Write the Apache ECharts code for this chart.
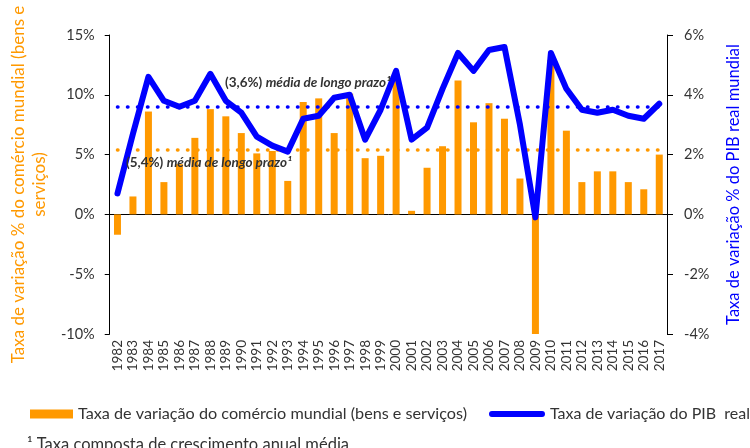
<!DOCTYPE html>
<html>
<head>
<meta charset="utf-8">
<script src="https://cdn.jsdelivr.net/npm/echarts@6/dist/echarts.min.js"></script>
<style>
  html, body { margin: 0; padding: 0; background: #fff; }
  #chart { width: 750px; height: 448px; }
</style>
</head>
<body>
<div id="chart"></div>
<script>
const years = ["1982", "1983", "1984", "1985", "1986", "1987", "1988", "1989", "1990", "1991",
  "1992", "1993", "1994", "1995", "1996", "1997", "1998", "1999", "2000", "2001",
  "2002", "2003", "2004", "2005", "2006", "2007", "2008", "2009", "2010", "2011",
  "2012", "2013", "2014", "2015", "2016", "2017"];

// world trade growth (goods and services), %
const tradeGrowth = [-1.7, 1.5, 8.6, 2.7, 4.2, 6.4, 8.8, 8.2, 6.8, 5.1,
  5.3, 2.8, 9.4, 9.7, 6.8, 10.1, 4.7, 4.9, 11.2, 0.3,
  3.9, 5.7, 11.2, 7.7, 9.3, 8.0, 3.0, -10.0, 12.9, 7.0,
  2.7, 3.6, 3.6, 2.7, 2.1, 5.0];

// world real GDP growth, %
const gdpGrowth = [0.7, 2.7, 4.6, 3.8, 3.6, 3.8, 4.7, 3.8, 3.4, 2.6,
  2.3, 2.1, 3.2, 3.3, 3.9, 4.0, 2.5, 3.5, 4.8, 2.5,
  2.9, 4.2, 5.4, 4.8, 5.5, 5.6, 3.0, -0.1, 5.4, 4.2,
  3.5, 3.4, 3.5, 3.3, 3.2, 3.7];

// long term averages
const tradeAvg = 5.4;
const gdpAvg = 3.6;

const leftTicks = { min: -10, max: 15, interval: 5 };
const rightTicks = { min: -4, max: 6, interval: 2 };

const ORANGE = "#FF9900";
const BLUE = "#0000FF";
const FONT = "Lato";

let chart = echarts.init(document.getElementById("chart"));

const noteRich = {
  a: { fontFamily: FONT, fontSize: 13.5, fontWeight: "bold", fill: "#333" },
  b: { fontFamily: FONT, fontSize: 13.5, fontWeight: "bold", fontStyle: "italic", fill: "#333" },
};

let option = {
  animation: false,
  grid: { left: 100, right: 77, top: 35, bottom: 114 },
  legend: [
    {
      data: ["Taxa de variação do comércio mundial (bens e serviços)"],
      left: 25,
      top: 401,
      itemWidth: 43,
      itemHeight: 9,
      icon: "rect",
      textStyle: { fontFamily: FONT, fontSize: 16.2, color: "#333" },
    },
    {
      data: ["Taxa de variação do PIB  real"],
      left: 484,
      top: 401,
      itemWidth: 56,
      itemHeight: 6,
      icon: "path://M3,0 L54,0 A3,3 0 0 1 54,6 L3,6 A3,3 0 0 1 3,0 Z",
      itemStyle: { color: BLUE },
      textStyle: { fontFamily: FONT, fontSize: 16, color: "#333" },
    },
  ],
  xAxis: [
    {
      type: "category",
      data: years,
      position: "bottom",
      axisLine: { onZero: true, lineStyle: { color: "#000", width: 1 } },
      axisTick: { length: 6, lineStyle: { color: "#000" } },
      axisLabel: { show: false },
      splitLine: { show: false },
    },
    {
      type: "category",
      data: years,
      position: "bottom",
      axisLine: { show: false, onZero: false },
      axisTick: { show: false },
      axisLabel: {
        interval: 0,
        rotate: 90,
        margin: 6,
        fontFamily: FONT,
        fontSize: 13.5,
        color: "#333",
      },
    },
  ],
  yAxis: [
    {
      type: "value",
      position: "left",
      min: leftTicks.min,
      max: leftTicks.max,
      interval: leftTicks.interval,
      name: "Taxa de variação % do comércio mundial (bens e\nserviços)",
      nameLocation: "middle",
      nameRotate: 90,
      nameGap: 57,
      nameTextStyle: { color: ORANGE, fontFamily: FONT, fontSize: 17, lineHeight: 21 },
      axisLine: { show: true, lineStyle: { color: "#000" } },
      axisTick: { show: true, length: 5, lineStyle: { color: "#000" } },
      axisLabel: {
        formatter: "{value}%",
        margin: 15,
        fontFamily: FONT,
        fontSize: 14.5,
        color: "#333",
      },
      splitLine: { show: false },
    },
    {
      type: "value",
      position: "right",
      min: rightTicks.min,
      max: rightTicks.max,
      interval: rightTicks.interval,
      name: "Taxa de variação % do PIB real mundial",
      nameLocation: "middle",
      nameRotate: 90,
      nameGap: 58,
      nameTextStyle: { color: BLUE, fontFamily: FONT, fontSize: 16.5 },
      axisLine: { show: true, lineStyle: { color: "#000" } },
      axisTick: { show: true, length: 6, lineStyle: { color: "#000" } },
      axisLabel: {
        formatter: "{value}%",
        margin: 17,
        fontFamily: FONT,
        fontSize: 14.5,
        color: "#333",
      },
      splitLine: { show: false },
    },
  ],
  series: [
    {
      name: "Taxa de variação do comércio mundial (bens e serviços)",
      type: "bar",
      xAxisIndex: 0,
      yAxisIndex: 0,
      barWidth: 7,
      itemStyle: { color: ORANGE },
      data: tradeGrowth,
      markLine: {
        silent: true,
        symbol: "none",
        label: { show: false },
        lineStyle: { color: ORANGE, width: 3.5, type: [0.5, 9.5], cap: "round" },
        data: [[{ coord: [years[0], tradeAvg] }, { coord: [years[years.length - 1], tradeAvg] }]],
      },
    },
    {
      name: "Taxa de variação do PIB  real",
      type: "line",
      xAxisIndex: 0,
      yAxisIndex: 1,
      symbol: "none",
      z: 5,
      lineStyle: { color: BLUE, width: 6, cap: "round", join: "round" },
      itemStyle: { color: BLUE },
      data: gdpGrowth,
      markLine: {
        silent: true,
        symbol: "none",
        label: { show: false },
        lineStyle: { color: BLUE, width: 3.5, type: [0.5, 9.5], cap: "round" },
        data: [[{ coord: [years[0], gdpAvg] }, { coord: [years[years.length - 1], gdpAvg] }]],
      },
    },
  ],
  graphic: [
    {
      type: "text",
      left: 225,
      top: 76,
      z: 10,
      style: { text: "{a|(3,6%)} {b|média de longo prazo¹}", rich: noteRich },
    },
    {
      type: "text",
      left: 126,
      top: 156,
      z: 10,
      style: { text: "{a|(5,4%)} {b|média de longo prazo¹}", rich: noteRich },
    },
    {
      type: "text",
      left: 27,
      top: 436,
      style: {
        text: "¹ Taxa composta de crescimento anual média",
        fontFamily: FONT,
        fontSize: 16.5,
        fill: "#333",
      },
    },
  ],
};

chart.setOption(option);
</script>
</body>
</html>
